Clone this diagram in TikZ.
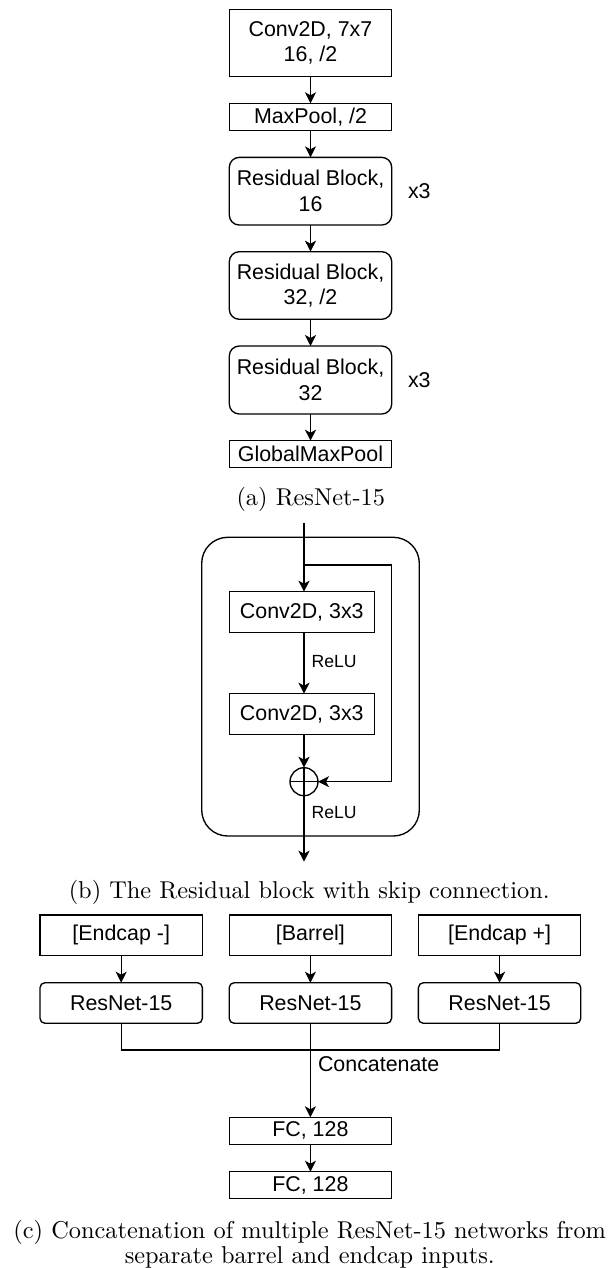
\documentclass[tikz,border=0pt]{standalone}
\usepackage{fontspec}
\newfontfamily\diagfont{Liberation Sans}
\usetikzlibrary{arrows.meta}

\begin{document}
\begin{tikzpicture}[x=1pt, y=-1pt,
  every node/.style={inner sep=0pt, outer sep=0pt},
  lw/.style={line width=1.35pt},
  blk/.style={draw, lw, minimum width=162.4pt, align=center,
    font=\diagfont\fontsize{21.4}{25.7}\selectfont},
  rblk/.style={blk, rounded corners=10pt},
  convblk/.style={blk, minimum width=145pt, minimum height=41pt},
  inblk/.style={blk, minimum height=40.7pt},
  netblk/.style={blk, rounded corners=5pt, minimum height=40.6pt},
  lbl/.style={font=\diagfont\fontsize{21.4}{25.7}\selectfont},
  smalllbl/.style={font=\diagfont\fontsize{17.6}{21}\selectfont},
  flow/.style={lw, -{Stealth[length=11pt, width=11pt, inset=3pt]}},
  wire/.style={lw}
]
\useasboundingbox (0,0) rectangle (610,1268);

% ---------- (a) ResNet-15 ----------
\node[blk, minimum height=67.4pt] (conv7) at (310.5,43) {Conv2D, 7x7\\16, /2};
\node[blk, minimum height=27.4pt] (mpool) at (310.5,117) {MaxPool, /2};
\node[rblk, minimum height=67.7pt] (rb1) at (310.5,191.2) {Residual Block,\\16};
\node[rblk, minimum height=67.6pt] (rb2) at (310.5,285.5) {Residual Block,\\32, /2};
\node[rblk, minimum height=68pt] (rb3) at (310.5,380) {Residual Block,\\32};
\node[blk, minimum height=26.6pt] (gmp) at (310.5,454) {GlobalMaxPool};
\node[lbl, anchor=west] (rep1) at (408,191.2) {x3};
\node[lbl, anchor=west] (rep3) at (408,380) {x3};

\draw[flow] (conv7) -- (mpool);
\draw[flow] (mpool) -- (rb1);
\draw[flow] (rb1) -- (rb2);
\draw[flow] (rb2) -- (rb3);
\draw[flow] (rb3) -- (gmp);

\node[anchor=base] (capa) at (310.8,505.5)
  {\scalebox{2.435}{\fontsize{10}{12}\selectfont (a) ResNet-15}};

% ---------- (b) residual block ----------
\node[draw, lw, rounded corners=26pt, minimum width=217.6pt, minimum height=298.7pt]
  (rblock) at (310.5,686.65) {};
\coordinate (rin) at (304,523);
\coordinate (split) at (304,565);
\coordinate (skip) at (391.7,781.7);
\coordinate (rout) at (304,861.7);
\node[convblk] (ca) at (301.8,612.2) {Conv2D, 3x3};
\node[convblk] (cb) at (301.8,714.2) {Conv2D, 3x3};
\node[draw, lw, circle, minimum size=28pt] (add) at (304,781.7) {};
\draw[wire] (add.north) -- (add.south) (add.west) -- (add.east);

\draw[flow] (rin) -- (rin |- ca.north);
\draw[flow] (split) -| (skip) -- (add.east);
\draw[flow] (rin |- ca.south) -- (rin |- cb.north);
\draw[flow] (rin |- cb.south) -- (add.north);
\draw[flow] (add.south) -- (rout);
\node[smalllbl, anchor=west] (relu1) at (311.7,662) {ReLU};
\node[smalllbl, anchor=west] (relu2) at (311.7,813) {ReLU};

\node[anchor=base] (capb) at (309.2,898)
  {\scalebox{2.435}{\fontsize{10}{12}\selectfont (b) The Residual block with skip connection.}};

% ---------- (c) concatenation ----------
\node[inblk] (em) at (121.2,935.3) {[Endcap -]};
\node[inblk] (ba) at (310.4,935.3) {[Barrel]};
\node[inblk] (ep) at (499.6,935.3) {[Endcap +]};
\node[netblk] (n1) at (121.2,1003) {ResNet-15};
\node[netblk] (n2) at (310.4,1003) {ResNet-15};
\node[netblk] (n3) at (499.6,1003) {ResNet-15};
\node[blk, minimum height=27pt] (fc1) at (310.4,1130.8) {FC, 128};
\node[blk, minimum height=26.6pt] (fc2) at (310.4,1185) {FC, 128};
\coordinate (join) at (310.4,1050);

\draw[flow] (em) -- (n1);
\draw[flow] (ba) -- (n2);
\draw[flow] (ep) -- (n3);
\draw[wire] (n1.south) -- (n1.south |- join) -- (n3.south |- join) -- (n3.south);
\draw[flow] (n2.south) -- (fc1.north);
\draw[flow] (fc1) -- (fc2);
\node[lbl, anchor=west] (cat) at (318,1064) {Concatenate};

\node[anchor=base] (capc1) at (309.7,1238.3)
  {\scalebox{2.435}{\fontsize{10}{12}\selectfont (c) Concatenation of multiple ResNet-15 networks from}};
\node[anchor=base] (capc2) at (309.7,1263.3)
  {\scalebox{2.435}{\fontsize{10}{12}\selectfont separate barrel and endcap inputs.}};
\end{tikzpicture}
\end{document}
